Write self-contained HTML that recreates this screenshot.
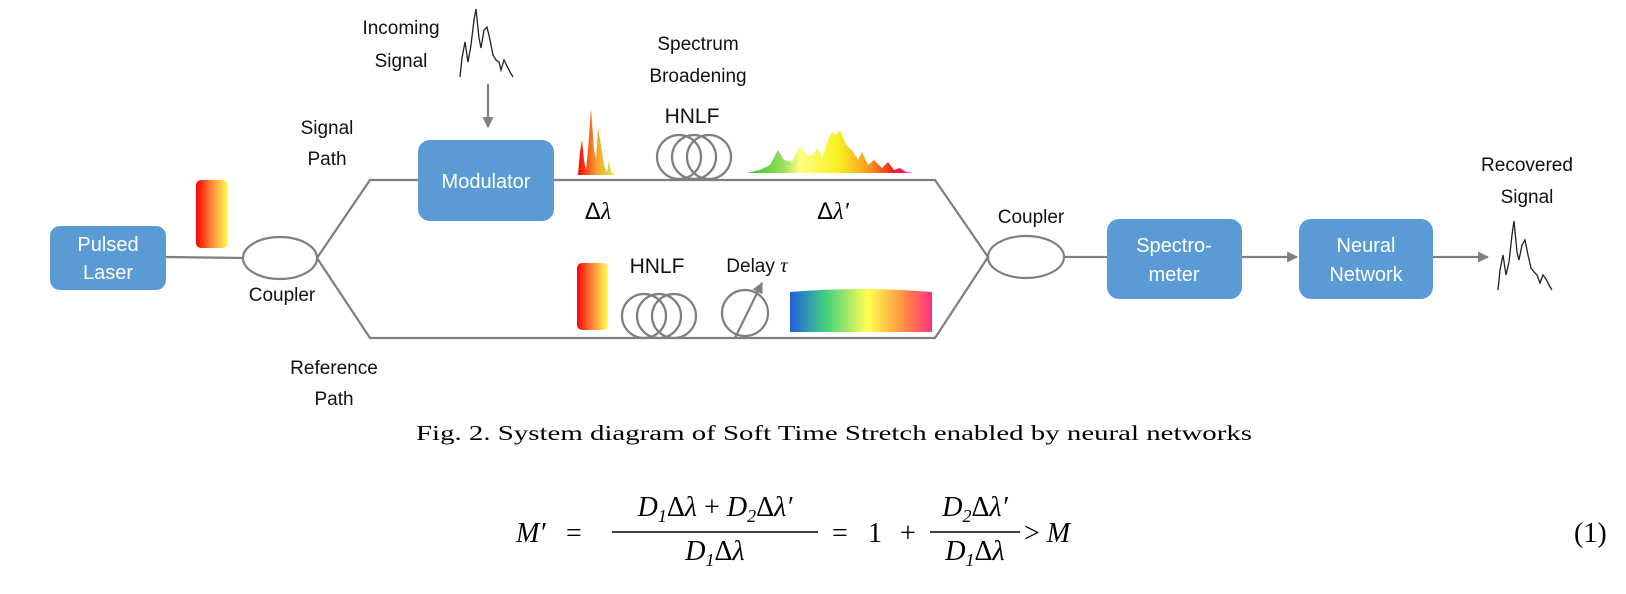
<!DOCTYPE html>
<html><head><meta charset="utf-8"><style>
html,body{margin:0;padding:0;background:#fff;width:1626px;height:594px;overflow:hidden}
svg{display:block}
.t{font-family:"Liberation Sans",sans-serif;fill:#111;font-size:19px}
.w{font-family:"Liberation Sans",sans-serif;fill:#fff;font-size:20px}
.m{font-family:"Liberation Serif",serif;font-style:italic;fill:#000;font-size:28px}
.n{font-style:normal}
.ln{stroke:#7f7f7f;stroke-width:2.2;fill:none}
</style></head><body>
<svg width="1626" height="594" viewBox="0 0 1626 594">
<defs>
<linearGradient id="ry" x1="0" x2="1" y1="0" y2="0"><stop offset="0" stop-color="#f00"/><stop offset="0.5" stop-color="#ff8c3a"/><stop offset="1" stop-color="#ffff50"/></linearGradient>
<linearGradient id="sm" x1="0" x2="1"><stop offset="0" stop-color="#f00"/><stop offset="0.5" stop-color="#f8a030"/><stop offset="1" stop-color="#d8f040"/></linearGradient>
<linearGradient id="big" x1="0" x2="1"><stop offset="0" stop-color="#20c020"/><stop offset="0.22" stop-color="#9be060"/><stop offset="0.32" stop-color="#ffff80"/><stop offset="0.55" stop-color="#f8f020"/><stop offset="0.75" stop-color="#f89020"/><stop offset="0.88" stop-color="#f02020"/><stop offset="1" stop-color="#ff00d0"/></linearGradient>
<linearGradient id="rb" x1="0" x2="1"><stop offset="0" stop-color="#2060e0"/><stop offset="0.25" stop-color="#40d080"/><stop offset="0.55" stop-color="#ffff50"/><stop offset="0.8" stop-color="#ff9040"/><stop offset="1" stop-color="#ff3080"/></linearGradient>
<marker id="ar" viewBox="0 0 10 10" refX="9" refY="5" markerWidth="5" markerHeight="5" orient="auto"><path d="M0,0L10,5L0,10z" fill="#7f7f7f"/></marker>
</defs>

<rect x="50" y="226" width="116" height="64" rx="10" fill="#5b9bd5"/>
<text class="w" x="108" y="251" text-anchor="middle">Pulsed</text>
<text class="w" x="108" y="279" text-anchor="middle">Laser</text>
<rect x="196" y="180" width="32" height="68" rx="5" fill="url(#ry)"/>
<line class="ln" x1="166" y1="257" x2="243" y2="258"/>
<ellipse class="ln" cx="280" cy="258" rx="37" ry="21"/>
<text class="t" x="282" y="301" text-anchor="middle">Coupler</text>
<polyline class="ln" points="317,258 370,180 418,180"/>
<polyline class="ln" points="317,258 370,338 935,338 988,257"/>
<text class="t" x="327" y="134" text-anchor="middle">Signal</text>
<text class="t" x="327" y="165" text-anchor="middle">Path</text>
<text class="t" x="334" y="374" text-anchor="middle">Reference</text>
<text class="t" x="334" y="405" text-anchor="middle">Path</text>

<text class="t" x="401" y="34" text-anchor="middle">Incoming</text>
<text class="t" x="401" y="67" text-anchor="middle">Signal</text>
<polyline fill="none" stroke="#222" stroke-width="1.3" points="460,77 462,58 465,42 468,62 471,45 474,20 476,9 479,38 481,48 484,30 487,27 490,40 493,55 496,60 499,62 501,70 504,60 507,66 510,72 513,77"/>
<line class="ln" x1="488" y1="84" x2="488" y2="127" marker-end="url(#ar)"/>

<rect x="418" y="140" width="136" height="81" rx="12" fill="#5b9bd5"/>
<text class="w" x="486" y="188" text-anchor="middle" font-size="18">Modulator</text>
<polyline class="ln" points="554,180 935,180 988,257"/>

<text class="t" x="698" y="50" text-anchor="middle">Spectrum</text>
<text class="t" x="698" y="82" text-anchor="middle">Broadening</text>
<text class="t" x="692" y="123" text-anchor="middle" style="font-size:21px">HNLF</text>
<g class="ln"><circle cx="679" cy="157" r="22"/><circle cx="694" cy="157" r="22"/><circle cx="709" cy="157" r="22"/></g>

<polygon fill="url(#sm)" points="578,175 580,152 582,140 584,160 586,170 588,150 591,108 594,150 596,160 598,128 601,145 604,165 607,172 609,160 611,172 615,175"/>
<polygon fill="url(#big)" points="747,173 760,170 770,165 778,150 784,160 792,162 800,145 806,155 812,155 818,148 822,158 828,140 832,132 836,135 840,130 846,145 852,150 858,160 862,152 868,165 874,160 882,168 888,162 894,170 900,168 906,172 913,173"/>
<text x="598" y="219" text-anchor="middle" style="font-family:'Liberation Sans',sans-serif;font-size:24px">Δ<tspan style="font-family:'Liberation Serif',serif;font-style:italic">λ</tspan></text>
<text x="833" y="219" text-anchor="middle" style="font-family:'Liberation Sans',sans-serif;font-size:24px">Δ<tspan style="font-family:'Liberation Serif',serif;font-style:italic">λ′</tspan></text>

<rect x="577" y="263" width="31" height="67" rx="5" fill="url(#ry)"/>
<text class="t" x="657" y="273" text-anchor="middle" style="font-size:21px">HNLF</text>
<g class="ln"><circle cx="644" cy="316" r="22"/><circle cx="659" cy="316" r="22"/><circle cx="674" cy="316" r="22"/></g>
<text class="t" x="757" y="272" text-anchor="middle">Delay <tspan style="font-family:'Liberation Serif',serif;font-style:italic;font-size:21px">τ</tspan></text>
<circle class="ln" cx="745" cy="313" r="23"/>
<line class="ln" x1="735" y1="338" x2="762" y2="283" marker-end="url(#ar)"/>
<path d="M790,292 Q861,286 932,292 L932,332 L790,332 Z" fill="url(#rb)"/>

<ellipse class="ln" cx="1026" cy="257" rx="38" ry="21"/>
<text class="t" x="1031" y="223" text-anchor="middle">Coupler</text>
<line class="ln" x1="1064" y1="257" x2="1107" y2="257"/>
<rect x="1107" y="219" width="135" height="80" rx="12" fill="#5b9bd5"/>
<text class="w" x="1174" y="252" text-anchor="middle">Spectro-</text>
<text class="w" x="1174" y="281" text-anchor="middle">meter</text>
<line class="ln" x1="1242" y1="257" x2="1297" y2="257" marker-end="url(#ar)"/>
<rect x="1299" y="219" width="134" height="80" rx="12" fill="#5b9bd5"/>
<text class="w" x="1366" y="252" text-anchor="middle">Neural</text>
<text class="w" x="1366" y="281" text-anchor="middle">Network</text>
<line class="ln" x1="1433" y1="257" x2="1488" y2="257" marker-end="url(#ar)"/>
<polyline fill="none" stroke="#222" stroke-width="1.3" points="1498,290 1500,270 1503,255 1506,275 1509,262 1512,235 1514,221 1517,252 1519,260 1522,245 1525,240 1528,255 1531,268 1534,272 1537,275 1540,283 1543,275 1546,279 1549,285 1552,290"/>
<text class="t" x="1527" y="171" text-anchor="middle">Recovered</text>
<text class="t" x="1527" y="203" text-anchor="middle">Signal</text>

<text x="416" y="440" font-family="Liberation Serif" font-size="21" textLength="836" lengthAdjust="spacingAndGlyphs" fill="#000">Fig. 2. System diagram of Soft Time Stretch enabled by neural networks</text>

<g>
<text class="m" x="516" y="542">M′</text>
<text class="m n" x="566" y="542">=</text>
<text class="m" x="715" y="516" text-anchor="middle">D<tspan font-size="18" dy="6">1</tspan><tspan dy="-6" class="n">Δ</tspan>λ <tspan class="n">+</tspan> D<tspan font-size="18" dy="6">2</tspan><tspan dy="-6" class="n">Δ</tspan>λ′</text>
<line x1="612" y1="532" x2="818" y2="532" stroke="#000" stroke-width="1.6"/>
<text class="m" x="715" y="560" text-anchor="middle">D<tspan font-size="18" dy="6">1</tspan><tspan dy="-6" class="n">Δ</tspan>λ</text>
<text class="m n" x="832" y="542">=</text>
<text class="m n" x="868" y="542">1</text>
<text class="m n" x="900" y="542">+</text>
<text class="m" x="975" y="516" text-anchor="middle">D<tspan font-size="18" dy="6">2</tspan><tspan dy="-6" class="n">Δ</tspan>λ′</text>
<line x1="930" y1="532" x2="1020" y2="532" stroke="#000" stroke-width="1.6"/>
<text class="m" x="975" y="560" text-anchor="middle">D<tspan font-size="18" dy="6">1</tspan><tspan dy="-6" class="n">Δ</tspan>λ</text>
<text class="m" x="1024" y="542"><tspan class="n">&gt;</tspan> M</text>
<text class="m n" x="1574" y="542">(1)</text>
</g>
</svg>
</body></html>
